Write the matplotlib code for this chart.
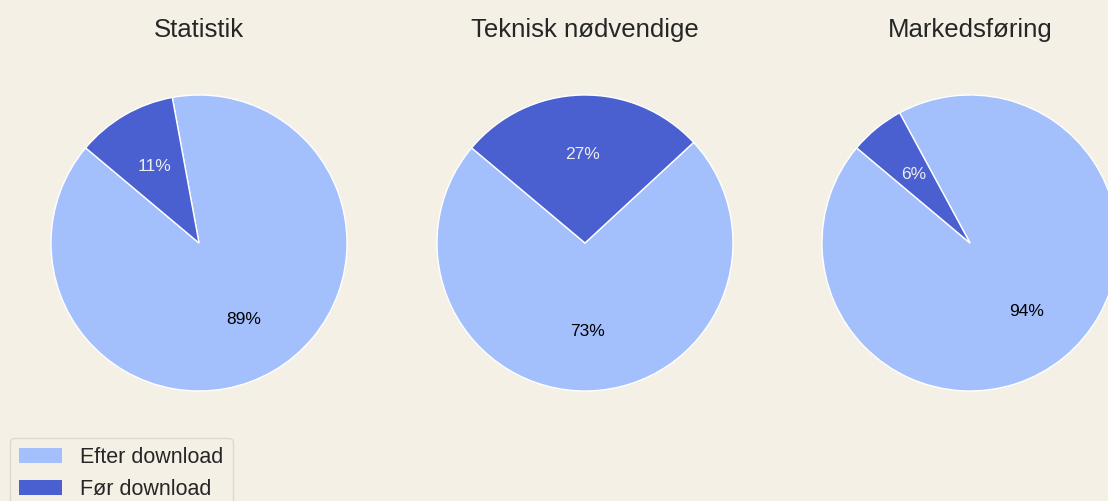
import matplotlib.pyplot as plt
from matplotlib.patches import Patch

plt.rcParams['font.family'] = ['Liberation Sans', 'DejaVu Sans']

# data
titles = ['Statistik', 'Teknisk nødvendige', 'Markedsføring']
labels = ['Efter download', 'Før download']
efter = [89, 73, 94]
foer = [11, 27, 6]

bg = '#f4f0e6'
colors = ['#a3bffc', '#4a5fd0']
text_col = '#262626'

fig = plt.figure(figsize=(11.08, 5.01), dpi=100, facecolor=bg)
W, H = 1108, 501

centers_x = [199, 585, 970]
cy, r = 243, 148

for i, t in enumerate(titles):
    cx = centers_x[i]
    ax = fig.add_axes([(cx - r) / W, (H - cy - r) / H, 2 * r / W, 2 * r / H])
    ax.set_facecolor(bg)
    wedges, txts, autotxts = ax.pie(
        [efter[i], foer[i]], colors=colors, startangle=140,
        autopct='%1.0f%%', pctdistance=0.6,
        wedgeprops=dict(edgecolor='white', linewidth=1),
        textprops=dict(fontsize=12.5))
    autotxts[0].set_color('black')
    autotxts[1].set_color('#eeeeee')
    ax.set_xlim(-1, 1)
    ax.set_ylim(-1, 1)
    ax.set_aspect('auto')
    ax.text(0, 206 / r, t, ha='center', va='baseline', fontsize=18.5,
            color=text_col, clip_on=False)

handles = [Patch(facecolor=c, edgecolor='none') for c in colors]
leg = fig.legend(handles, labels, loc='upper left',
                 bbox_to_anchor=(10 / W, (H - 438) / H),
                 fontsize=15.5, frameon=True, handlelength=2.0,
                 handleheight=0.67, handletextpad=0.85, labelspacing=0.5,
                 borderaxespad=0, borderpad=0.42)
leg.get_frame().set_facecolor(bg)
leg.get_frame().set_edgecolor('#d8d4cc')
for txt in leg.get_texts():
    txt.set_color(text_col)

plt.savefig('out.png', dpi=100, facecolor=bg)
